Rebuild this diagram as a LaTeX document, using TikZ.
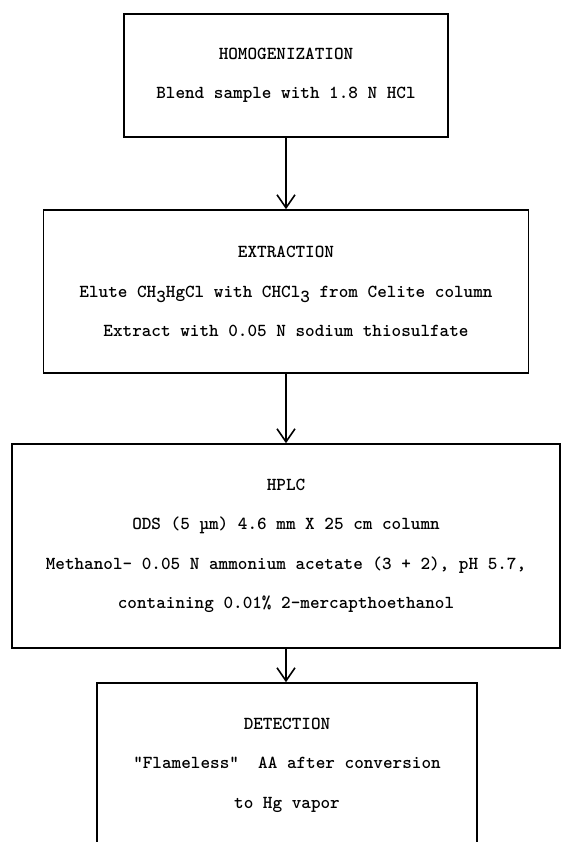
\documentclass[tikz,border=0pt]{standalone}
\usetikzlibrary{arrows.meta}

\begin{document}
\begin{tikzpicture}[x=1pt,y=-1pt,line width=1.6pt,
    stage/.style={draw,align=center,inner sep=0pt,
      font=\ttfamily\bfseries\fontsize{18.3}{39.5}\selectfont},
    >={Straight Barb[length=13pt,width=18pt]}]

  \useasboundingbox (0,0) rectangle (561,842);
  \clip (0,0) rectangle (561,842);

  \node[stage,minimum width=324,minimum height=123] (homog) at (286,75.5)
    {HOMOGENIZATION\\Blend sample with 1.8 N HCl};
  \node[stage,minimum width=485,minimum height=163] (extr) at (286,291.5)
    {EXTRACTION\\Elute CH\raisebox{-5pt}{3}HgCl with CHCl\raisebox{-5pt}{3} from Celite column\\
     Extract with 0.05 N sodium thiosulfate};
  \node[stage,minimum width=548,minimum height=204] (hplc) at (286,546)
    {HPLC\\ODS (5 µm) 4.6 mm X 25 cm column\\
     Methanol- 0.05 N ammonium acetate (3 + 2), pH 5.7,\\
     containing 0.01\% 2-mercapthoethanol};
  \node[stage,minimum width=380,minimum height=164] (detect) at (287,765)
    {DETECTION\\"Flameless"\ \ AA after conversion\\to Hg vapor};

  \draw[->,line width=1.6pt] (homog.south) -- (homog.south |- extr.north);
  \draw[->,line width=1.6pt] (extr.south) -- (extr.south |- hplc.north);
  \draw[->,line width=1.6pt] (hplc.south) -- (hplc.south |- detect.north);
\end{tikzpicture}
\end{document}
